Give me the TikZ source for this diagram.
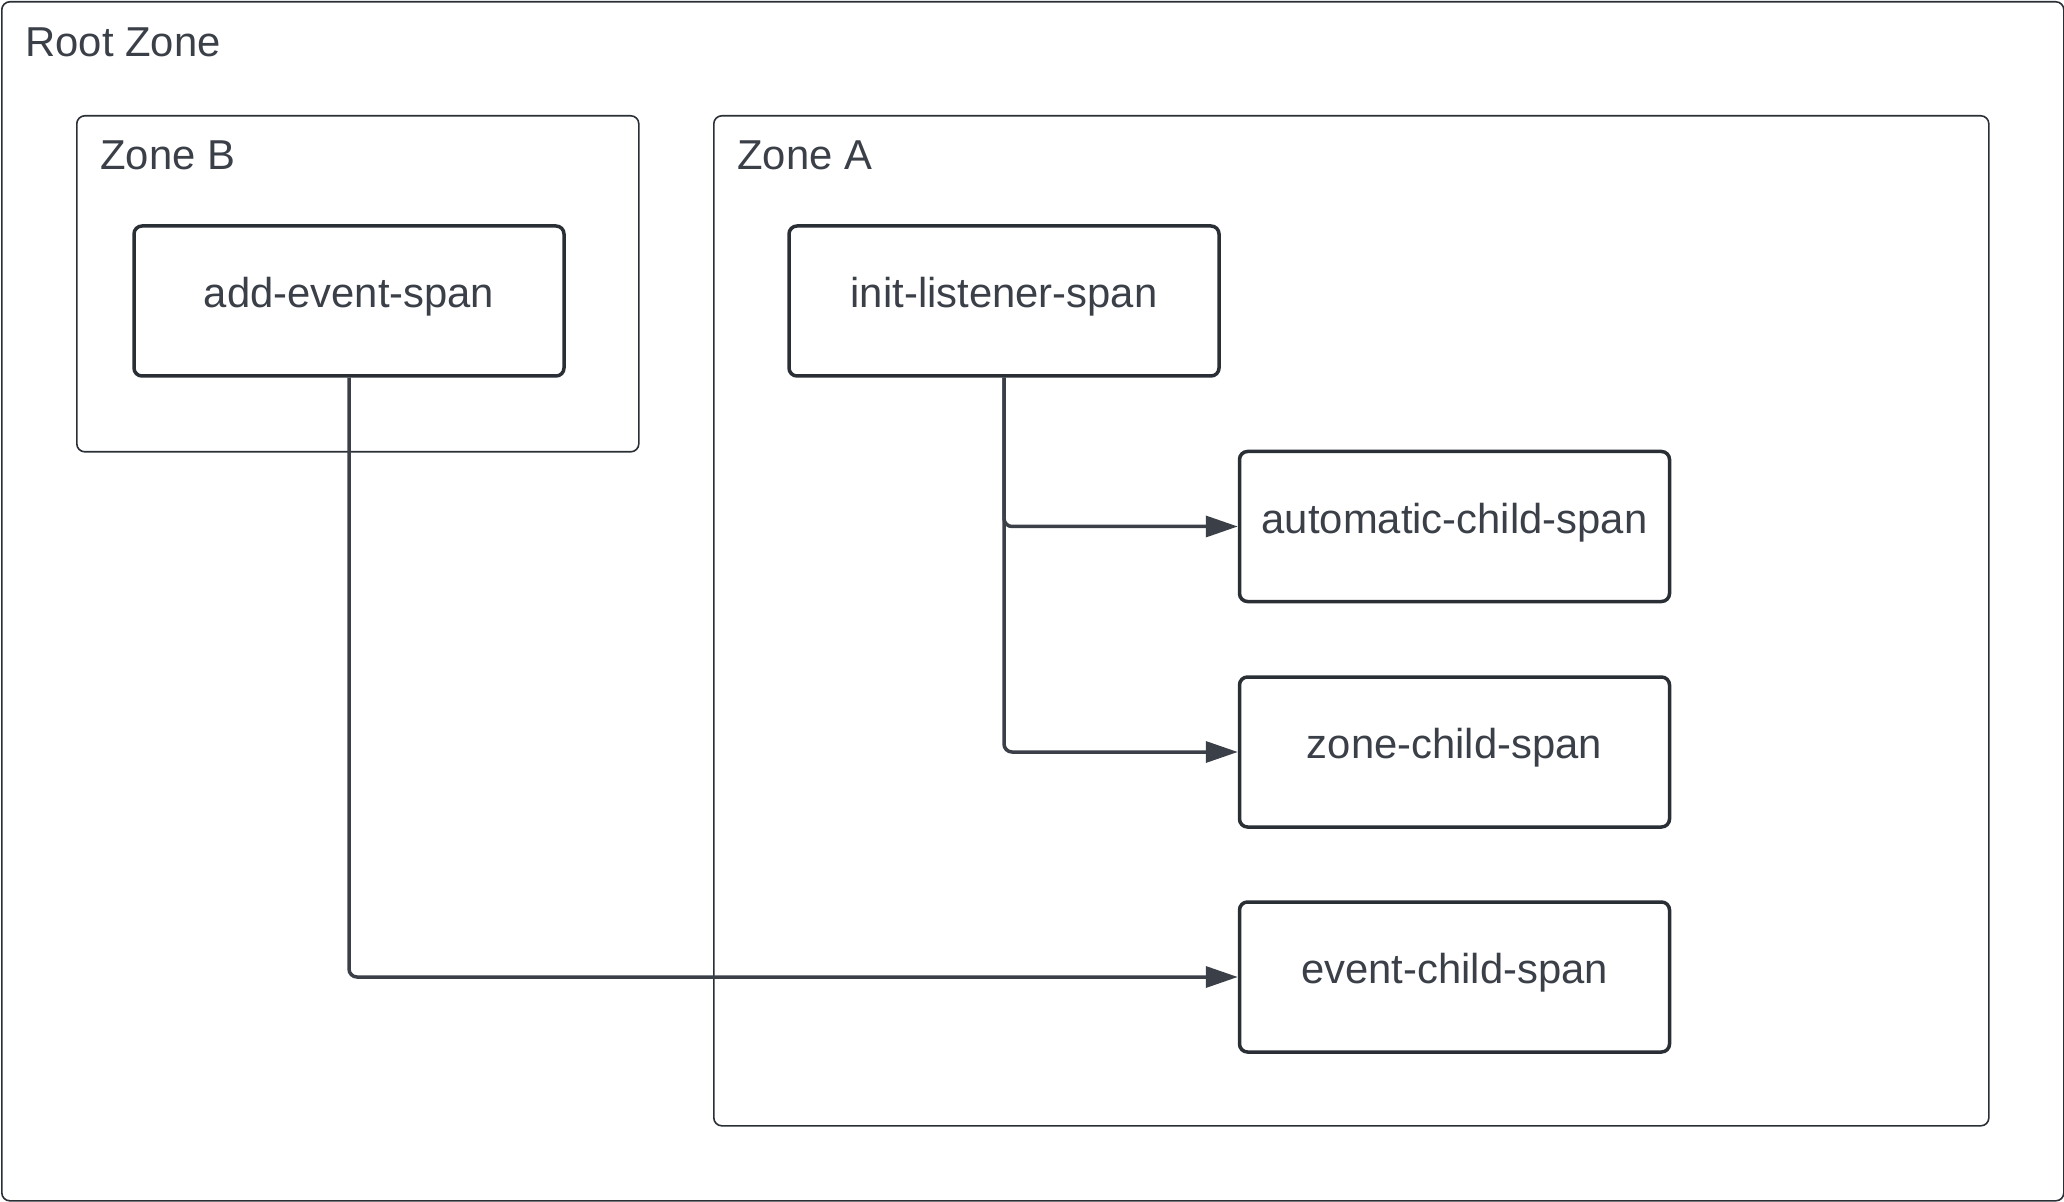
\documentclass[tikz,border=0pt]{standalone}
\usepackage{fontspec}
\setmainfont{Liberation Sans}
\usetikzlibrary{arrows.meta}
\definecolor{ink}{RGB}{58,63,72}
\definecolor{edge}{RGB}{42,46,53}
\begin{document}
\begin{tikzpicture}[x=0.5pt,y=-0.5pt,
  zonebox/.style={draw=edge,line width=0.8pt,rounded corners=4pt,inner sep=0pt,anchor=north west},
  spanbox/.style={draw=edge,line width=1.75pt,rounded corners=4pt,minimum width=215pt,minimum height=75pt,inner sep=0pt,text=ink,text height=15pt,text depth=8.4pt,font=\fontsize{20.9}{24}\selectfont},
  zonelabel/.style={anchor=base west,text=ink,inner sep=0pt,font=\fontsize{20.9}{24}\selectfont},
  conn/.style={draw=ink,line width=1.75pt,rounded corners=4pt,-{Triangle[length=16pt,width=10.5pt]}}]
\useasboundingbox (0,0) rectangle (2064,1202);
% zones
\node[zonebox,minimum width=1031pt,minimum height=599.5pt] (root) at (1,1) {};
\node[zonebox,minimum width=281pt,minimum height=168pt] (zoneB) at (76,115) {};
\node[zonebox,minimum width=637.5pt,minimum height=505pt] (zoneA) at (713,115) {};
\node[zonelabel] (rootlbl) at (25,57) {Root Zone};
\node[zonelabel] (zoneBlbl) at (100,170) {Zone B};
\node[zonelabel] (zoneAlbl) at (737,170) {Zone A};
% spans
\node[spanbox] (add) at (349,301) {add-event-span};
\node[spanbox] (init) at (1004,301) {init-listener-span};
\node[spanbox] (auto) at (1454.5,526.5) {automatic-child-span};
\node[spanbox] (zc) at (1454.5,752) {zone-child-span};
\node[spanbox] (ec) at (1454.5,977) {event-child-span};
% connectors
\draw[conn] (add.south) |- (ec.west);
\draw[conn] (init.south) |- (auto.west);
\draw[conn] (init.south) |- (zc.west);
\end{tikzpicture}
\end{document}
